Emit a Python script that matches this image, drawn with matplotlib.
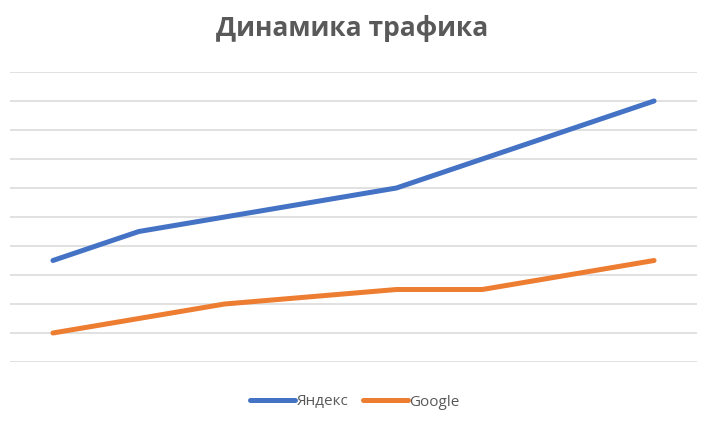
import matplotlib.pyplot as plt

# данные (шкала 0..10)
periods = [1, 2, 3, 4, 5, 6, 7, 8]
yandex = [3.5, 4.5, 5.0, 5.5, 6.0, 7.0, 8.0, 9.0]
google = [1.0, 1.5, 2.0, 2.25, 2.5, 2.5, 3.0, 3.5]

plt.rcParams['font.family'] = ['Open Sans', 'DejaVu Sans']

fig = plt.figure(figsize=(7.01, 4.22), dpi=100)
ax = fig.add_axes([10 / 701, 60 / 422, 687 / 701, 290 / 422])

x = range(len(periods))
ax.plot(x, yandex, color='#4472C4', lw=3.6, solid_capstyle='round', label='Яндекс')
ax.plot(x, google, color='#ED7D31', lw=3.6, solid_capstyle='round', label='Google')

ax.set_xlim(-0.5, len(periods) - 0.5)
ax.set_ylim(0, 10)
ax.set_yticks(range(0, 11))
ax.set_xticks([])
ax.grid(axis='y', color='#D9D9D9', lw=1.1)
ax.set_axisbelow(True)
ax.tick_params(left=False, labelleft=False)
for s in ax.spines.values():
    s.set_visible(False)

fig.text(0.502, 1 - 29 / 422, 'Динамика трафика', ha='center', va='center',
         fontsize=19, fontweight='bold', color='#595959')

leg = fig.legend(loc='center', bbox_to_anchor=(355 / 701, 1 - 402 / 422), ncol=2,
                 frameon=False, fontsize=11, handlelength=2.9, handletextpad=0.1,
                 columnspacing=1.0)
for t in leg.get_texts():
    t.set_color('#595959')

fig.savefig('out.png', dpi=100)
